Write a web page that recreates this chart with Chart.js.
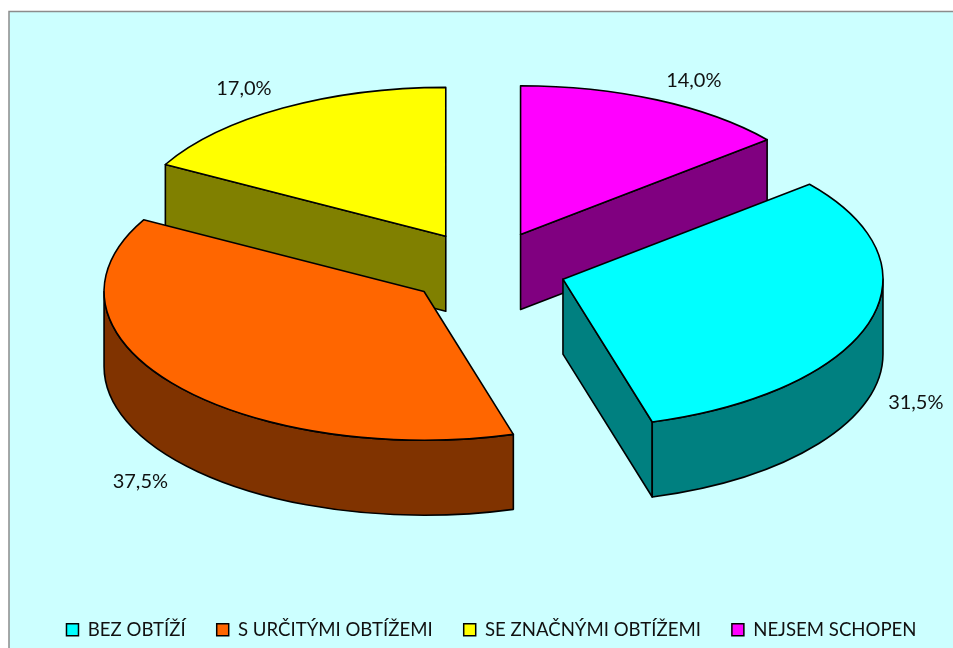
<!DOCTYPE html>
<html>
<head>
<meta charset="utf-8">
<title>Graf</title>
<script src="https://cdn.jsdelivr.net/npm/chart.js@4"></script>
<style>
    html, body { margin: 0; padding: 0; background: #fff; overflow: hidden; }
    #wrap { width: 953px; height: 648px; }
</style>
</head>
<body>
<div id="wrap"><canvas id="chart" width="953" height="648"></canvas></div>
<script>
// Chart data
var categories = ['BEZ OBTÍŽÍ', 'S URČITÝMI OBTÍŽEMI', 'SE ZNAČNÝMI OBTÍŽEMI', 'NEJSEM SCHOPEN'];
var shares = [31.5, 37.5, 17.0, 14.0];
var pointLabels = ['31,5%', '37,5%', '17,0%', '14,0%'];
var topColors = ['#00FFFF', '#FF6600', '#FFFF00', '#FF00FF'];
var sideColors = ['#008080', '#803300', '#808000', '#800080'];

// Look of the fake 3D pie
var tilt = 0.465;
var depth = 75;
var explode = 80;
var pieRadius = 320;
var pieShiftX = -5;
var pieShiftY = -26.5;
var labelFont = '20px Lato, sans-serif';
var labelShift = [[47, 5], [-34, 22], [-39, -20], [37, -19]];

var pie3d = {
    id: 'pie3d',
    beforeDraw: function (chart) {
        var c = chart.ctx;
        c.save();
        c.fillStyle = '#fff';
        c.fillRect(0, 0, chart.width, chart.height);
        c.fillStyle = '#CCFFFF';
        c.fillRect(9, 11, chart.width, chart.height);
        c.strokeStyle = '#8c8c8c';
        c.lineWidth = 1.5;
        c.beginPath();
        c.moveTo(9, chart.height);
        c.lineTo(9, 11.5);
        c.lineTo(chart.width, 11.5);
        c.stroke();
        c.restore();
    },
    // replaces the flat arcs, angles and radius still come from the controller
    beforeDatasetDraw: function (chart) {
        var c = chart.ctx;
        var slices = chart.getDatasetMeta(0).data.map(function (arc, i) {
            var mid = (arc.startAngle + arc.endAngle) / 2;
            return {
                i: i,
                a0: arc.startAngle,
                a1: arc.endAngle,
                mid: mid,
                r: arc.outerRadius,
                x: arc.x + pieShiftX + Math.cos(mid) * explode,
                y: arc.y + pieShiftY + Math.sin(mid) * explode * tilt
            };
        });

        // back slices first
        slices.sort(function (a, b) { return Math.sin(a.mid) - Math.sin(b.mid); });

        c.save();
        c.lineJoin = 'round';
        c.lineWidth = 1.6;
        c.strokeStyle = '#000';
        slices.forEach(function (s) {
            drawWalls(c, s);
            c.beginPath();
            c.moveTo(s.x, s.y);
            c.ellipse(s.x, s.y, s.r, s.r * tilt, 0, s.a0, s.a1);
            c.closePath();
            c.fillStyle = topColors[s.i];
            c.fill();
            c.stroke();
        });
        slices.forEach(function (s) {
            var x = s.x + Math.cos(s.mid) * s.r + labelShift[s.i][0];
            var y = s.y + Math.sin(s.mid) * s.r * tilt + labelShift[s.i][1];
            if (Math.sin(s.mid) > 0) y += depth;
            c.fillStyle = '#111';
            c.font = labelFont;
            c.textAlign = 'center';
            c.textBaseline = 'middle';
            c.fillText(pointLabels[s.i], x, y);
        });
        c.restore();
        return false;
    }
};

function radialWall(c, s, angle) {
    var ex = s.x + Math.cos(angle) * s.r;
    var ey = s.y + Math.sin(angle) * s.r * tilt;
    c.beginPath();
    c.moveTo(s.x, s.y);
    c.lineTo(ex, ey);
    c.lineTo(ex, ey + depth);
    c.lineTo(s.x, s.y + depth);
    c.closePath();
    c.fillStyle = sideColors[s.i];
    c.fill();
    c.stroke();
}

function drawWalls(c, s) {
    // radial cuts, only the ones turned towards the viewer
    if (-Math.cos(s.a0) > 0.001) radialWall(c, s, s.a0);
    if (Math.cos(s.a1) > 0.001) radialWall(c, s, s.a1);

    // rim, front half of the ellipse only
    var from = Math.max(s.a0, 0);
    var to = Math.min(s.a1, Math.PI);
    if (to > from) {
        c.beginPath();
        c.ellipse(s.x, s.y, s.r, s.r * tilt, 0, from, to);
        c.ellipse(s.x, s.y + depth, s.r, s.r * tilt, 0, to, from, true);
        c.closePath();
        c.fillStyle = sideColors[s.i];
        c.fill();
        c.stroke();
    }
}

new Chart(document.getElementById('chart'), {
    type: 'pie',
    data: {
        labels: categories,
        datasets: [{
            data: shares,
            backgroundColor: topColors,
            borderColor: '#000',
            borderWidth: 1.5
        }]
    },
    options: {
        responsive: false,
        animation: false,
        rotation: 50.4,
        radius: pieRadius,
        layout: { padding: { left: 30, top: 0, right: 0, bottom: -1 } },
        plugins: {
            legend: {
                position: 'bottom',
                labels: {
                    boxWidth: 12,
                    boxHeight: 12,
                    padding: 31,
                    color: '#111',
                    font: { family: 'Lato, sans-serif', size: 18.6 }
                }
            },
            tooltip: { enabled: false }
        }
    },
    plugins: [pie3d]
});
</script>
</body>
</html>
